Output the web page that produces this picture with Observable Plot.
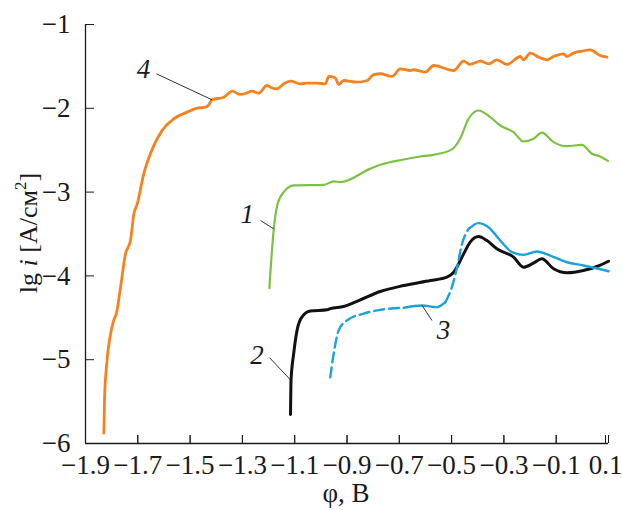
<!DOCTYPE html>
<html>
<head>
<meta charset="utf-8">
<script src="https://cdn.jsdelivr.net/npm/d3@7"></script>
<script src="https://cdn.jsdelivr.net/npm/@observablehq/plot@0.6"></script>
<style>
  html, body { margin: 0; padding: 0; background: #fff; }
  #chart { width: 622px; height: 510px; }
</style>
</head>
<body>
<div id="chart"></div>
<script>
// ---- data (φ, V ; lg i) ----
const xTicks = [-1.9, -1.7, -1.5, -1.3, -1.1, -0.9, -0.7, -0.5, -0.3, -0.1, 0.1];
const yTicks = [-6, -5, -4, -3, -2, -1];

const curve4 = [
  [-1.830,-5.877],[-1.827,-5.447],[-1.820,-5.09],[-1.804,-4.69],[-1.792,-4.53],[-1.782,-4.45],
  [-1.766,-4.135],[-1.747,-3.736],[-1.728,-3.578],[-1.715,-3.26],[-1.702,-3.14],[-1.677,-2.78],
  [-1.652,-2.543],[-1.607,-2.265],[-1.563,-2.125],[-1.511,-2.046],[-1.473,-1.998],[-1.440,-1.985],
  [-1.429,-1.960],[-1.416,-1.899],[-1.371,-1.867],[-1.339,-1.796],[-1.308,-1.835],[-1.285,-1.82],
  [-1.263,-1.796],[-1.238,-1.82],[-1.206,-1.728],[-1.185,-1.76],[-1.167,-1.767],[-1.142,-1.708],
  [-1.117,-1.676],[-1.078,-1.708],[-1.053,-1.70],[-1.014,-1.70],[-0.983,-1.708],[-0.970,-1.62],
  [-0.945,-1.636],[-0.932,-1.716],[-0.913,-1.668],[-0.862,-1.688],[-0.823,-1.668],[-0.798,-1.597],
  [-0.773,-1.588],[-0.728,-1.62],[-0.696,-1.529],[-0.658,-1.549],[-0.645,-1.54],[-0.620,-1.555],
  [-0.601,-1.569],[-0.569,-1.489],[-0.492,-1.549],[-0.454,-1.438],[-0.429,-1.477],[-0.390,-1.438],
  [-0.358,-1.469],[-0.327,-1.421],[-0.288,-1.477],[-0.237,-1.382],[-0.225,-1.421],[-0.199,-1.342],
  [-0.161,-1.398],[-0.135,-1.421],[-0.110,-1.382],[-0.072,-1.35],[-0.059,-1.382],[-0.034,-1.342],
  [-0.002,-1.318],[0.030,-1.302],[0.068,-1.37],[0.094,-1.39]
];

const curve1 = [
  [-1.197,-4.147],[-1.180,-3.44],[-1.167,-3.16],[-1.142,-3.0],[-1.104,-2.92],[-0.989,-2.913],
  [-0.951,-2.873],[-0.925,-2.88],[-0.811,-2.72],[-0.773,-2.674],[-0.683,-2.611],[-0.620,-2.575],
  [-0.569,-2.555],[-0.499,-2.49],[-0.467,-2.36],[-0.435,-2.125],[-0.397,-2.026],[-0.352,-2.106],
  [-0.314,-2.205],[-0.263,-2.285],[-0.225,-2.396],[-0.187,-2.364],[-0.155,-2.29],[-0.110,-2.404],
  [-0.059,-2.452],[-0.002,-2.436],[0.037,-2.543],[0.068,-2.575],[0.098,-2.627]
];

const curve2 = [
  [-1.116,-5.654],[-1.114,-5.25],[-1.104,-4.93],[-1.091,-4.65],[-1.072,-4.49],[-1.040,-4.42],
  [-0.976,-4.405],[-0.964,-4.39],[-0.913,-4.365],[-0.849,-4.285],[-0.773,-4.186],[-0.683,-4.115],
  [-0.581,-4.055],[-0.518,-4.015],[-0.492,-3.956],[-0.454,-3.737],[-0.429,-3.597],[-0.397,-3.53],
  [-0.365,-3.578],[-0.327,-3.677],[-0.263,-3.776],[-0.225,-3.896],[-0.187,-3.848],[-0.155,-3.796],
  [-0.110,-3.915],[-0.059,-3.963],[0.004,-3.936],[0.056,-3.888],[0.100,-3.825]
];

const curve3 = [
  [-0.964,-5.21],[-0.951,-4.93],[-0.932,-4.65],[-0.900,-4.53],[-0.836,-4.45],[-0.773,-4.405],
  [-0.683,-4.38],[-0.613,-4.353],[-0.556,-4.373],[-0.524,-4.314],[-0.499,-4.135],[-0.479,-3.896],
  [-0.460,-3.617],[-0.435,-3.44],[-0.397,-3.37],[-0.359,-3.419],[-0.314,-3.578],[-0.269,-3.717],
  [-0.225,-3.749],[-0.174,-3.709],[-0.123,-3.757],[-0.059,-3.837],[0.004,-3.876],[0.100,-3.944]
];
// x-ranges of curve 3 drawn dashed
const curve3Dashed = [[-0.964, -0.683], [-0.524, -0.435]];

// curve labels: text position and leader line (data coordinates)
const curveLabels = [
  {text: "4", x: -1.678, y: -1.54,  x1: -1.629, y1: -1.588, x2: -1.416, y2: -1.899},
  {text: "1", x: -1.281, y: -3.267, x1: -1.231, y1: -3.339, x2: -1.180, y2: -3.438},
  {text: "2", x: -1.244, y: -4.95,  x1: -1.196, y1: -4.977, x2: -1.114, y2: -5.248},
  {text: "3", x: -0.531, y: -4.652, x1: -0.575, y1: -4.532, x2: -0.613, y2: -4.353}
];

const xLabel = "φ, B";

// ---- build segments of curve 3 ----
const toObj = (arr, z) => arr.map(([x, y]) => ({x, y, z}));
const dashedPts = [];
curve3Dashed.forEach(([a, b], i) => {
  curve3.filter(([x]) => x >= a && x <= b).forEach(([x, y]) => dashedPts.push({x, y, z: "d" + i}));
});
const solidRanges = [];
let prev = curve3[0][0];
curve3Dashed.forEach(([a, b]) => { if (a > prev) solidRanges.push([prev, a]); prev = b; });
solidRanges.push([prev, curve3[curve3.length - 1][0]]);
const solidPts = [];
solidRanges.forEach(([a, b], i) => {
  curve3.filter(([x]) => x >= a && x <= b).forEach(([x, y]) => solidPts.push({x, y, z: "s" + i}));
});

const fmtX = d3.format(".1f");
const fmtY = d3.format("d");
const FS = 27;

const chart = Plot.plot({
  width: 622,
  height: 510,
  marginLeft: 85,
  marginRight: 14,
  marginTop: 24,
  marginBottom: 67,
  style: {fontFamily: "Liberation Serif", fontSize: FS + "px", color: "#1a1a1a", background: "#fff"},
  x: {domain: [-1.9, 0.1]},
  y: {domain: [-6, -1]},
  marks: [
    Plot.axisX({ticks: xTicks, tickFormat: fmtX, tickSize: -8, tickPadding: 19, label: null, fontSize: FS, stroke: "#1a1a1a", text: null}),
    Plot.axisX({ticks: xTicks.slice(0, -1), tickFormat: fmtX, tickSize: -8, tickPadding: 19, label: null, fontSize: FS, fill: "#1a1a1a", tick: null}),
    Plot.axisX({ticks: xTicks.slice(-1), tickFormat: fmtX, tickSize: -8, tickPadding: 19, label: null, fontSize: FS, fill: "#1a1a1a", tick: null, dx: -3}),
    Plot.axisY({ticks: yTicks, tickFormat: fmtY, tickSize: -9, tickPadding: 24, label: null, fontSize: FS, stroke: "#1a1a1a"}),
    Plot.ruleX([-1.9], {stroke: "#1a1a1a", strokeWidth: 1.3}),
    Plot.ruleY([-6], {stroke: "#1a1a1a", strokeWidth: 1.3}),
    Plot.line(toObj(curve4, "4"), {x: "x", y: "y", stroke: "#f5821f", strokeWidth: 2.8, curve: "monotone-x"}),
    Plot.line(toObj(curve1, "1"), {x: "x", y: "y", stroke: "#7dc142", strokeWidth: 2.2, curve: "monotone-x"}),
    Plot.line(toObj(curve2, "2"), {x: "x", y: "y", stroke: "#111111", strokeWidth: 3, curve: "monotone-x"}),
    Plot.line(solidPts, {x: "x", y: "y", z: "z", stroke: "#1ba1dc", strokeWidth: 2.4, curve: "monotone-x"}),
    Plot.line(dashedPts, {x: "x", y: "y", z: "z", stroke: "#1ba1dc", strokeWidth: 2.4, strokeDasharray: "10,5", curve: "monotone-x"}),
    Plot.link(curveLabels, {x1: "x1", y1: "y1", x2: "x2", y2: "y2", stroke: "#1a1a1a", strokeWidth: 0.9}),
    Plot.text(curveLabels, {x: "x", y: "y", text: "text", fontStyle: "italic", fontSize: FS, fill: "#1a1a1a"})
  ]
});

document.getElementById("chart").appendChild(chart);

// axis titles with mixed styling
const svg = d3.select(chart);
svg.append("text")
  .attr("x", 346).attr("y", 502)
  .attr("text-anchor", "middle")
  .attr("font-size", FS)
  .attr("fill", "#1a1a1a")
  .text(xLabel);

const yt = svg.append("text")
  .attr("transform", "translate(37,233) rotate(-90)")
  .attr("text-anchor", "middle")
  .attr("font-size", 26)
  .attr("fill", "#1a1a1a");
yt.append("tspan").text("lg ");
yt.append("tspan").attr("font-style", "italic").text("i");
yt.append("tspan").text(" [A/см");
yt.append("tspan").attr("font-size", 17).attr("dy", -11).text("2");
yt.append("tspan").attr("dy", 11).text("]");
</script>
</body>
</html>
